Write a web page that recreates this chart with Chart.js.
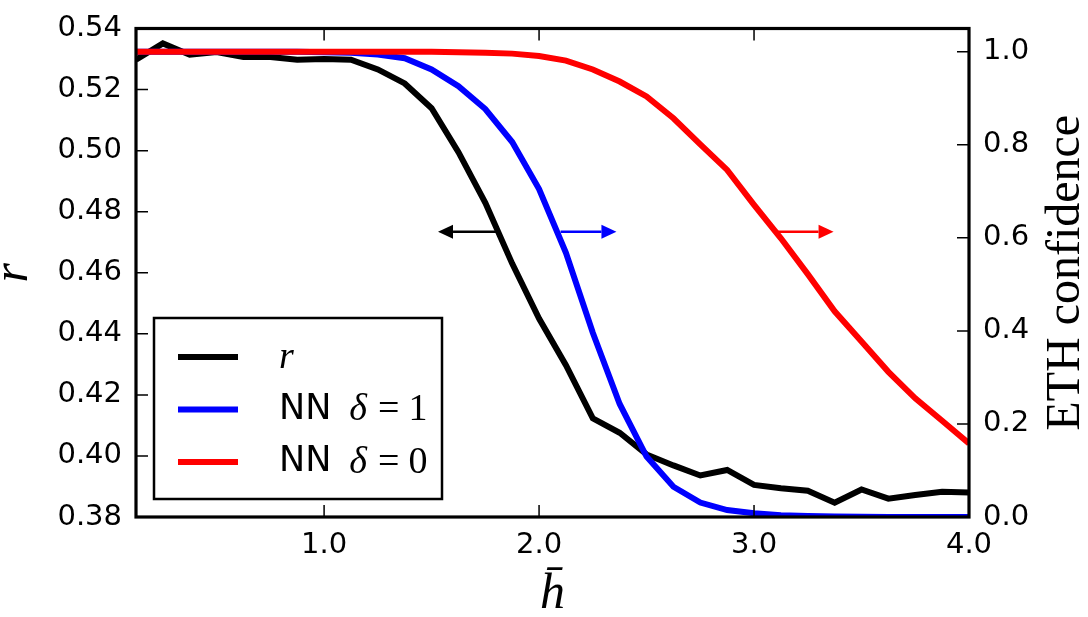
<!DOCTYPE html>
<html lang="en">
  <head>
    <meta charset="UTF-8" />
    <title>r and ETH confidence vs h</title>
    <script src="https://cdn.jsdelivr.net/npm/chart.js@4.4.0/dist/chart.umd.min.js"></script>
    <style>
      body { margin: 0; background: #fff; }
      #wrap { width: 1088px; height: 617px; }
    </style>
  </head>
  <body>
    <div id="wrap"><canvas id="myChart"></canvas></div>

    <script>
      // h-bar values along the x axis
      const hBar = [0.125, 0.25, 0.375, 0.5, 0.625, 0.75, 0.875, 1.0,
                    1.125, 1.25, 1.375, 1.5, 1.625, 1.75, 1.875, 2.0,
                    2.125, 2.25, 2.375, 2.5, 2.625, 2.75, 2.875, 3.0,
                    3.125, 3.25, 3.375, 3.5, 3.625, 3.75, 3.875, 4.0];

      // level spacing ratio r (left axis)
      const rValues = [0.5298, 0.5351, 0.5314, 0.5323, 0.5307, 0.5307, 0.5298, 0.5300,
                       0.5298, 0.5266, 0.5220, 0.5139, 0.4995, 0.4829, 0.4630, 0.4450,
                       0.4297, 0.4123, 0.4076, 0.4005, 0.3969, 0.3936, 0.3954, 0.3905,
                       0.3894, 0.3886, 0.3847, 0.3890, 0.3860, 0.3872, 0.3883, 0.3880];

      // ETH confidence of the network, delta = 1 (right axis)
      const nnDelta1 = [1.0, 1.0, 1.0, 1.0, 1.0, 1.0, 1.0, 0.999,
                        0.998, 0.994, 0.986, 0.962, 0.926, 0.877, 0.806, 0.705,
                        0.568, 0.396, 0.243, 0.130, 0.065, 0.031, 0.015, 0.008,
                        0.004, 0.002, 0.001, 0.0005, 0.0, 0.0, 0.0, 0.0];

      // ETH confidence of the network, delta = 0 (right axis)
      const nnDelta0 = [1.0, 1.0, 1.0, 1.0, 1.0, 1.0, 1.0, 1.0,
                        1.0, 1.0, 1.0, 1.0, 0.999, 0.998, 0.996, 0.991,
                        0.981, 0.962, 0.936, 0.904, 0.857, 0.801, 0.746, 0.671,
                        0.599, 0.522, 0.442, 0.377, 0.312, 0.255, 0.207, 0.158];

      const xTicks = [1.0, 2.0, 3.0, 4.0];
      const rTicks = [0.38, 0.40, 0.42, 0.44, 0.46, 0.48, 0.50, 0.52, 0.54];
      const confTicks = [0.0, 0.2, 0.4, 0.6, 0.8, 1.0];

      // arrows telling which axis a curve belongs to: [from x, to x, y on right axis]
      const arrows = [
        { from: 1.80, to: 1.53, y: 0.613, color: '#000000' },
        { from: 2.10, to: 2.36, y: 0.613, color: '#0000ff' },
        { from: 3.11, to: 3.37, y: 0.613, color: '#ff0000' }
      ];

      const SANS = '"DejaVu Sans", sans-serif';
      const SERIF = '"Liberation Serif", serif';

      function pts(ys) {
        return hBar.map((x, i) => ({ x: x, y: ys[i] }));
      }

      // draws "NN δ=1" style text: plain part in sans, math part in serif
      function drawMathLabel(ctx, label, x, y) {
        let math = label;
        ctx.textBaseline = 'middle';
        ctx.textAlign = 'left';
        if (label.startsWith('NN ')) {
          ctx.font = '35px ' + SANS;
          ctx.fillText('NN', x, y);
          x += ctx.measureText('NN').width + 18;
          math = label.slice(3);
        }
        for (const ch of math) {
          if (ch === '=') {
            ctx.font = '38px ' + SERIF;
            x += 9;
            ctx.fillText('=', x, y + 1);
            x += ctx.measureText('=').width + 9;
          } else if (/[0-9]/.test(ch)) {
            ctx.font = '38px ' + SERIF;
            ctx.fillText(ch, x, y + 1);
            x += ctx.measureText(ch).width;
          } else {
            ctx.font = 'italic 38px ' + SERIF;
            ctx.fillText(ch, x, y + 1);
            x += ctx.measureText(ch).width + 2;
          }
        }
      }

      const decorPlugin = {
        id: 'decor',
        afterDatasetsDraw(chart) {
          const { ctx, chartArea: a, scales } = chart;
          const sx = scales.x, sy = scales.y, sy1 = scales.y1;
          const tl = 12;
          ctx.save();
          ctx.strokeStyle = '#000';
          ctx.lineWidth = 1.5;
          ctx.beginPath();
          // inward tick marks
          xTicks.forEach(v => {
            const px = sx.getPixelForValue(v);
            ctx.moveTo(px, a.bottom); ctx.lineTo(px, a.bottom - tl);
            ctx.moveTo(px, a.top); ctx.lineTo(px, a.top + tl);
          });
          rTicks.forEach(v => {
            const py = sy.getPixelForValue(v);
            ctx.moveTo(a.left, py); ctx.lineTo(a.left + tl, py);
          });
          confTicks.forEach(v => {
            const py = sy1.getPixelForValue(v);
            ctx.moveTo(a.right, py); ctx.lineTo(a.right - tl, py);
          });
          ctx.stroke();

          // frame
          ctx.lineWidth = 3.2;
          ctx.strokeRect(a.left, a.top, a.right - a.left, a.bottom - a.top);

          // arrows
          arrows.forEach(ar => {
            const x1 = sx.getPixelForValue(ar.from);
            const x2 = sx.getPixelForValue(ar.to);
            const py = sy1.getPixelForValue(ar.y);
            const dir = x2 > x1 ? 1 : -1;
            const head = 15;
            ctx.strokeStyle = ar.color;
            ctx.fillStyle = ar.color;
            ctx.lineWidth = 2.5;
            ctx.beginPath();
            ctx.moveTo(x1, py);
            ctx.lineTo(x2 - dir * head, py);
            ctx.stroke();
            ctx.beginPath();
            ctx.moveTo(x2, py);
            ctx.lineTo(x2 - dir * head, py - 7);
            ctx.lineTo(x2 - dir * head, py + 7);
            ctx.closePath();
            ctx.fill();
          });

          // legend box inside the plot
          const lx = 154, ly = 318, lw = 288, lh = 181;
          ctx.fillStyle = '#fff';
          ctx.fillRect(lx, ly, lw, lh);
          ctx.strokeStyle = '#000';
          ctx.lineWidth = 2.5;
          ctx.strokeRect(lx, ly, lw, lh);
          chart.data.datasets.forEach((ds, i) => {
            const rowY = ly + 39 + i * 52.5;
            ctx.strokeStyle = ds.borderColor;
            ctx.lineWidth = 6;
            ctx.beginPath();
            ctx.moveTo(lx + 24, rowY);
            ctx.lineTo(lx + 84, rowY);
            ctx.stroke();
            ctx.fillStyle = '#000';
            drawMathLabel(ctx, ds.label, lx + 125, rowY);
          });

          // right axis title, reading bottom to top
          ctx.fillStyle = '#000';
          ctx.font = '48px ' + SERIF;
          ctx.textAlign = 'center';
          ctx.textBaseline = 'middle';
          ctx.translate(1066, (a.top + a.bottom) / 2);
          ctx.rotate(-Math.PI / 2);
          ctx.fillText('ETH confidence', 0, 0);
          ctx.restore();
        }
      };

      const ctx = document.getElementById('myChart').getContext('2d');
      const myChart = new Chart(ctx, {
        type: 'line',
        data: {
          datasets: [
            {
              label: 'r',
              data: pts(rValues),
              borderColor: '#000000',
              borderWidth: 6,
              pointRadius: 0,
              fill: false,
              yAxisID: 'y',
              order: 3
            },
            {
              label: 'NN δ=1',
              data: pts(nnDelta1),
              borderColor: '#0000ff',
              borderWidth: 6,
              pointRadius: 0,
              fill: false,
              yAxisID: 'y1',
              order: 2
            },
            {
              label: 'NN δ=0',
              data: pts(nnDelta0),
              borderColor: '#ff0000',
              borderWidth: 6,
              pointRadius: 0,
              fill: false,
              yAxisID: 'y1',
              order: 1
            }
          ]
        },
        options: {
          responsive: true,
          maintainAspectRatio: false,
          animation: false,
          events: [],
          layout: { padding: { top: 16, left: 0, right: 0, bottom: 0 } },
          plugins: {
            legend: { display: false },
            tooltip: { enabled: false }
          },
          scales: {
            x: {
              type: 'linear',
              min: 0.125,
              max: 4.0,
              grid: { display: false, drawTicks: false },
              border: { display: false },
              afterBuildTicks: s => { s.ticks = xTicks.map(v => ({ value: v })); },
              afterFit: s => { s.height = 100; },
              ticks: {
                color: '#000',
                padding: 14,
                maxRotation: 0,
                font: { family: SANS, size: 29, lineHeight: 1 },
                callback: v => v.toFixed(1)
              },
              title: {
                display: true,
                text: 'h\u0304',
                color: '#000',
                padding: 0,
                font: { family: SERIF, size: 50, style: 'italic', lineHeight: 0.9 }
              }
            },
            y: {
              type: 'linear',
              position: 'left',
              min: 0.38,
              max: 0.54,
              grid: { display: false, drawTicks: false },
              border: { display: false },
              afterBuildTicks: s => { s.ticks = rTicks.map(v => ({ value: v })); },
              afterFit: s => { s.width = 136; },
              ticks: {
                color: '#000',
                padding: 14,
                font: { family: SANS, size: 29, lineHeight: 1 },
                callback: v => v.toFixed(2)
              },
              title: {
                display: true,
                text: 'r',
                color: '#000',
                padding: 0,
                font: { family: SERIF, size: 50, style: 'italic', lineHeight: 0.55 }
              }
            },
            y1: {
              type: 'linear',
              position: 'right',
              min: 0,
              max: 1.05,
              grid: { display: false, drawTicks: false },
              border: { display: false },
              afterBuildTicks: s => { s.ticks = confTicks.map(v => ({ value: v })); },
              afterFit: s => { s.width = 119; },
              ticks: {
                color: '#000',
                padding: 14,
                font: { family: SANS, size: 29, lineHeight: 1 },
                callback: v => v.toFixed(1)
              }
            }
          }
        },
        plugins: [decorPlugin]
      });
    </script>
  </body>
</html>
